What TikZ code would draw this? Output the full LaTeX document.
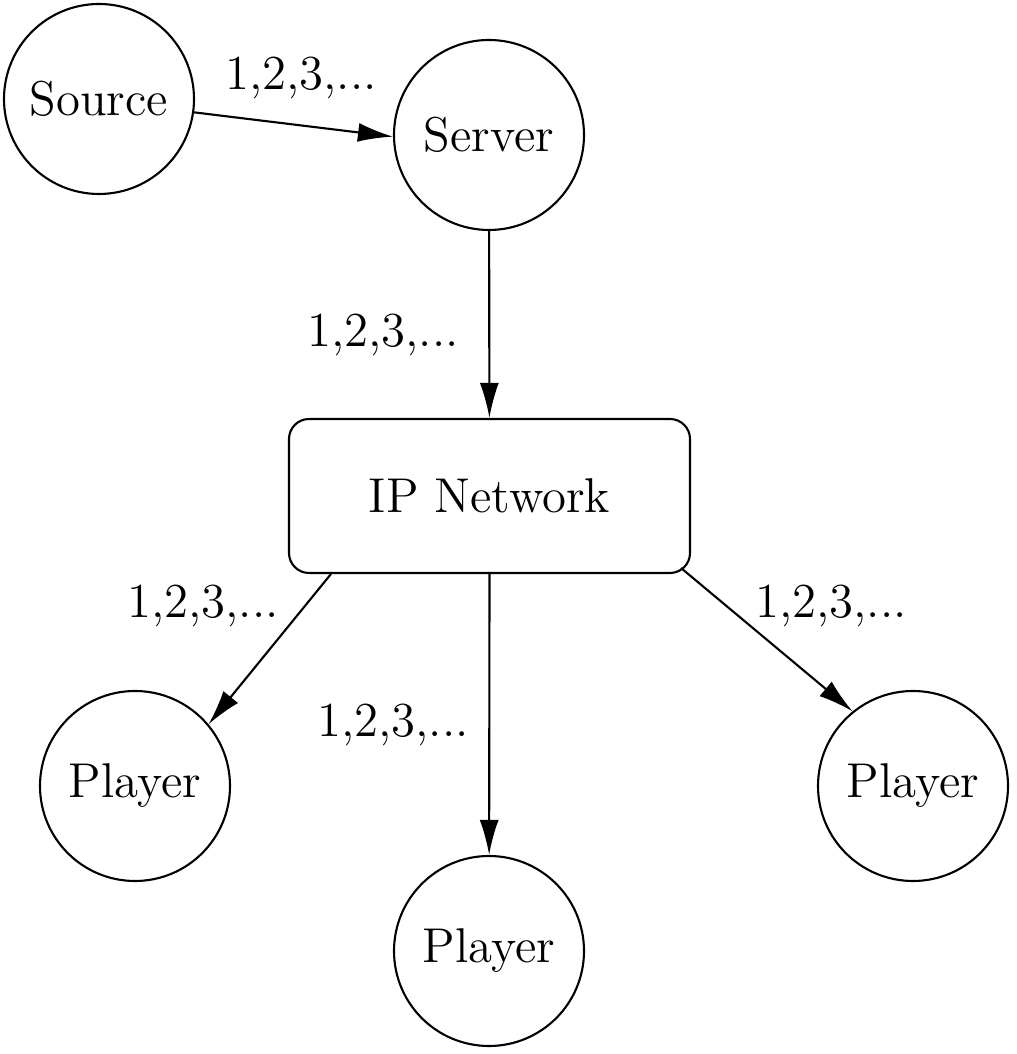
\documentclass[tikz,border=0pt]{standalone}
\usetikzlibrary{arrows.meta,calc}
\begin{document}
\begin{tikzpicture}[
  font=\fontsize{13.9}{16.5}\selectfont,
  line width=0.6pt,
  circ/.style={draw, circle, minimum size=1.9cm, inner sep=0pt},
  netbox/.style={draw, rectangle, rounded corners=0.2cm, minimum width=4.01cm, minimum height=1.54cm, inner sep=0pt},
  flow/.style={-{Latex[length=0.35cm,width=0.19cm]}},
  lbl/.style={anchor=base, inner sep=0pt}
]
\useasboundingbox (0,0) rectangle (10.17,10.54);
\node[circ] (source) at (0.99,9.55) {Source};
\node[circ] (server) at (4.89,9.19) {Server};
\node[netbox] (ip) at (4.895,5.58) {IP Network};
\node[circ] (pl) at (1.35,2.68) {Player};
\node[circ] (pm) at (4.89,1.03) {Player};
\node[circ] (pr) at (9.13,2.68) {Player};

\draw[flow] (source.-8.4) -- (server.181);
\draw[flow] (server) -- (ip);
\draw[flow] ($(ip.south west)+(0.43,0)$) -- (pl.40.8);
\draw[flow] (ip.south) -- (pm);
\draw[flow] ($(ip.south east)+(-0.10,0.06)$) -- (pr.129.4);

\node[lbl] (l1) at (3.01,9.64) {1,2,3,...};
\node[lbl] (l2) at (3.83,7.07) {1,2,3,...};
\node[lbl] (l3) at (2.03,4.36) {1,2,3,...};
\node[lbl] (l4) at (3.93,3.17) {1,2,3,...};
\node[lbl] (l5) at (8.31,4.36) {1,2,3,...};
\end{tikzpicture}
\end{document}
